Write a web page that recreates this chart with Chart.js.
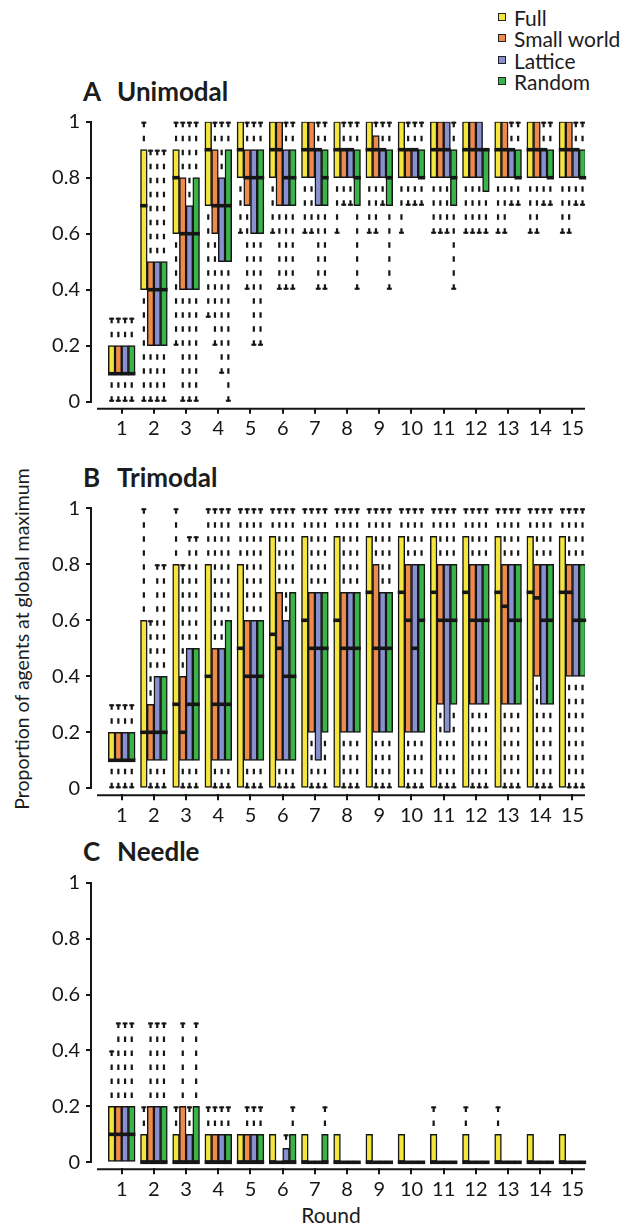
<!DOCTYPE html>
<html>
<head>
<meta charset="utf-8">
<script src="https://cdn.jsdelivr.net/npm/chart.js@4.4.1/dist/chart.umd.min.js"></script>
<style>
html,body{margin:0;padding:0;background:#fff;}
#page{position:relative;width:640px;height:1228px;overflow:hidden;font-family:Lato,'Open Sans',sans-serif;color:#1c1c1c;}
.abs{position:absolute;white-space:nowrap;}
canvas{position:absolute;left:0;}
.lgtext{position:absolute;left:514px;height:21px;line-height:21px;font-size:21px;white-space:nowrap;}
.lgbox{position:absolute;left:498px;width:6px;height:6px;border:1.5px solid #222;}
.pt{position:absolute;font-weight:700;font-size:26px;line-height:26px;white-space:nowrap;}
</style>
</head>
<body>
<div id="page">
  <div id="legend"></div>
  <div class="pt" style="left:83px;top:78px;">A</div>
  <div class="pt" style="left:117px;top:78px;">Unimodal</div>
  <div class="pt" style="left:83px;top:464px;">B</div>
  <div class="pt" style="left:117px;top:464px;">Trimodal</div>
  <div class="pt" style="left:83px;top:838px;">C</div>
  <div class="pt" style="left:117px;top:838px;">Needle</div>
  <div class="abs" style="left:-188px;top:627px;width:420px;height:24px;line-height:24px;font-size:19.5px;text-align:center;transform:rotate(-90deg);transform-origin:50% 50%;">Proportion of agents at global maximum</div>
  <div class="abs" style="left:281px;top:1204px;width:100px;height:22px;line-height:22px;font-size:21px;text-align:center;">Round</div>
  <canvas id="cA" width="640" height="345" style="top:100px"></canvas>
  <canvas id="cB" width="640" height="345" style="top:480px"></canvas>
  <canvas id="cC" width="640" height="350" style="top:855px"></canvas>
</div>
<script>
// ---------- data ----------
const rounds = [1,2,3,4,5,6,7,8,9,10,11,12,13,14,15];
const yTickValues = [0, 0.2, 0.4, 0.6, 0.8, 1];
const seriesNames = ['Full', 'Small world', 'Lattice', 'Random'];
const seriesColors = ['#F4E63E', '#EE8A4A', '#8890D0', '#38B449'];

// each entry: [min, q1, median, q3, max] for rounds 1..15
const unimodalFull = [[0,0.1,0.1,0.2,0.3],[0,0.4,0.7,0.9,1],[0.2,0.6,0.8,0.9,1],[0.3,0.7,0.9,1,1],[0.6,0.8,0.9,1,1],[0.6,0.8,0.9,1,1],[0.6,0.8,0.9,1,1],[0.6,0.8,0.9,1,1],[0.6,0.8,0.9,1,1],[0.6,0.8,0.9,1,1],[0.6,0.8,0.9,1,1],[0.6,0.8,0.9,1,1],[0.6,0.8,0.9,1,1],[0.6,0.8,0.9,1,1],[0.6,0.8,0.9,1,1]];
const unimodalSmallWorld = [[0,0.1,0.1,0.2,0.3],[0,0.2,0.4,0.5,0.9],[0,0.4,0.6,0.8,1],[0.2,0.6,0.7,0.9,1],[0.4,0.7,0.8,0.9,1],[0.4,0.7,0.9,1,1],[0.6,0.8,0.9,1,1],[0.7,0.8,0.9,0.9,1],[0.6,0.8,0.9,0.95,1],[0.7,0.8,0.9,0.9,1],[0.6,0.8,0.9,1,1],[0.6,0.8,0.9,1,1],[0.6,0.8,0.9,1,1],[0.6,0.8,0.9,1,1],[0.6,0.8,0.9,1,1]];
const unimodalLattice = [[0,0.1,0.1,0.2,0.3],[0,0.2,0.4,0.5,0.9],[0,0.4,0.6,0.7,1],[0.1,0.5,0.7,0.8,1],[0.2,0.6,0.8,0.9,1],[0.4,0.7,0.8,0.9,1],[0.4,0.7,0.9,0.9,1],[0.7,0.8,0.9,0.9,1],[0.7,0.8,0.9,0.9,1],[0.7,0.8,0.9,0.9,1],[0.6,0.8,0.9,1,1],[0.6,0.8,0.9,1,1],[0.7,0.8,0.9,0.9,1],[0.7,0.8,0.9,0.9,1],[0.7,0.8,0.9,0.9,1]];
const unimodalRandom = [[0,0.1,0.1,0.2,0.3],[0,0.2,0.4,0.5,0.9],[0,0.4,0.6,0.8,1],[0,0.5,0.7,0.9,1],[0.2,0.6,0.8,0.9,1],[0.4,0.7,0.8,0.9,1],[0.4,0.7,0.8,0.9,1],[0.4,0.7,0.8,0.9,1],[0.4,0.7,0.8,0.9,1],[0.7,0.8,0.8,0.9,1],[0.4,0.7,0.8,0.9,1],[0.6,0.75,0.9,0.9,0.9],[0.7,0.8,0.8,0.9,1],[0.7,0.8,0.8,0.9,1],[0.7,0.8,0.8,0.9,1]];

const trimodalFull = [[0,0.1,0.1,0.2,0.3],[0,0,0.2,0.6,1],[0,0,0.3,0.8,1],[0,0,0.4,0.8,1],[0,0,0.5,0.8,1],[0,0,0.55,0.9,1],[0,0,0.6,0.9,1],[0,0,0.6,0.9,1],[0,0,0.7,0.9,1],[0,0,0.7,0.9,1],[0,0,0.7,0.9,1],[0,0,0.7,0.9,1],[0,0,0.7,0.9,1],[0,0,0.7,0.9,1],[0,0,0.7,0.9,1]];
const trimodalSmallWorld = [[0,0.1,0.1,0.2,0.3],[0,0.1,0.2,0.3,0.6],[0,0.1,0.2,0.4,0.8],[0,0.1,0.3,0.5,1],[0,0.1,0.4,0.6,1],[0,0.1,0.5,0.7,1],[0,0.2,0.5,0.7,1],[0,0.2,0.5,0.7,1],[0,0.2,0.5,0.8,1],[0,0.2,0.6,0.8,1],[0,0.3,0.6,0.8,1],[0,0.3,0.6,0.8,1],[0,0.3,0.65,0.8,1],[0,0.4,0.68,0.8,1],[0,0.4,0.7,0.8,1]];
const trimodalLattice = [[0,0.1,0.1,0.2,0.3],[0,0.1,0.2,0.4,0.8],[0,0.1,0.3,0.5,0.9],[0,0.1,0.3,0.5,1],[0,0.1,0.4,0.6,1],[0,0.1,0.4,0.6,1],[0,0.1,0.5,0.7,1],[0,0.2,0.5,0.7,1],[0,0.2,0.5,0.7,1],[0,0.2,0.5,0.8,1],[0,0.2,0.6,0.8,1],[0,0.3,0.6,0.8,1],[0,0.3,0.6,0.8,1],[0,0.3,0.6,0.8,1],[0,0.4,0.6,0.8,1]];
const trimodalRandom = [[0,0.1,0.1,0.2,0.3],[0,0.1,0.2,0.4,0.8],[0,0.1,0.3,0.5,0.9],[0,0.1,0.3,0.6,1],[0,0.1,0.4,0.6,1],[0,0.1,0.4,0.7,1],[0,0.2,0.5,0.7,1],[0,0.2,0.5,0.7,1],[0,0.2,0.5,0.7,1],[0,0.2,0.6,0.8,1],[0,0.3,0.6,0.8,1],[0,0.3,0.6,0.8,1],[0,0.3,0.6,0.8,1],[0,0.3,0.6,0.8,1],[0,0.4,0.6,0.8,1]];

const needleFull = [[0,0,0.1,0.2,0.4],[0,0,0,0.1,0.2],[0,0,0,0.1,0.2],[0,0,0,0.1,0.2],[0,0,0,0.1,0.1],[0,0,0,0.1,0.1],[0,0,0,0.1,0.1],[0,0,0,0.1,0.1],[0,0,0,0.1,0.1],[0,0,0,0.1,0.1],[0,0,0,0.1,0.2],[0,0,0,0.1,0.2],[0,0,0,0.1,0.2],[0,0,0,0.1,0.1],[0,0,0,0.1,0.1]];
const needleSmallWorld = [[0,0,0.1,0.2,0.5],[0,0,0,0.2,0.5],[0,0,0,0.2,0.5],[0,0,0,0.1,0.2],[0,0,0,0.1,0.2],[0,0,0,0,0],[0,0,0,0,0],[0,0,0,0,0],[0,0,0,0,0],[0,0,0,0,0],[0,0,0,0,0],[0,0,0,0,0],[0,0,0,0,0],[0,0,0,0,0],[0,0,0,0,0]];
const needleLattice = [[0,0,0.1,0.2,0.5],[0,0,0,0.2,0.5],[0,0,0,0.1,0.2],[0,0,0,0.1,0.2],[0,0,0,0.1,0.2],[0,0,0,0.05,0.1],[0,0,0,0,0],[0,0,0,0,0],[0,0,0,0,0],[0,0,0,0,0],[0,0,0,0,0],[0,0,0,0,0],[0,0,0,0,0],[0,0,0,0,0],[0,0,0,0,0]];
const needleRandom = [[0,0,0.1,0.2,0.5],[0,0,0,0.2,0.5],[0,0,0,0.2,0.5],[0,0,0,0.1,0.2],[0,0,0,0.1,0.2],[0,0,0,0.1,0.2],[0,0,0,0.1,0.2],[0,0,0,0,0],[0,0,0,0,0],[0,0,0,0,0],[0,0,0,0,0],[0,0,0,0,0],[0,0,0,0,0],[0,0,0,0,0],[0,0,0,0,0]];

// ---------- legend ----------
const legendEl = document.getElementById('legend');
seriesNames.forEach((name, i) => {
  const cy = 17 + i * 21.5;
  const b = document.createElement('div');
  b.className = 'lgbox';
  b.style.top = (cy - 4.5) + 'px';
  b.style.background = seriesColors[i];
  legendEl.appendChild(b);
  const t = document.createElement('div');
  t.className = 'lgtext';
  t.style.top = (cy - 10.5) + 'px';
  t.textContent = name;
  legendEl.appendChild(t);
});

// ---------- drawing ----------
const INK = '#161616';
const boxPlotPlugin = {
  id: 'boxPlotExtras',
  afterDatasetsDraw(chart) {
    const ctx = chart.ctx;
    const ys = chart.scales.y;
    chart.data.datasets.forEach((ds, di) => {
      const meta = chart.getDatasetMeta(di);
      meta.data.forEach((bar, j) => {
        const st = ds.stats[j];
        const p = bar.getProps(['x', 'width'], true);
        const cx = p.x, w = p.width;
        const yMin = ys.getPixelForValue(st[0]);
        const yQ1 = ys.getPixelForValue(st[1]);
        const yMed = ys.getPixelForValue(st[2]);
        const yQ3 = ys.getPixelForValue(st[3]);
        const yMax = ys.getPixelForValue(st[4]);
        ctx.save();
        ctx.strokeStyle = INK;
        ctx.lineWidth = 2.2;
        ctx.lineCap = 'butt';
        if (st[4] > st[3]) {
          ctx.setLineDash([5.5, 8.5]);
          ctx.beginPath(); ctx.moveTo(cx, yMax); ctx.lineTo(cx, yQ3); ctx.stroke();
          ctx.setLineDash([]);
          ctx.lineWidth = 2;
          ctx.beginPath(); ctx.moveTo(cx - 2.5, yMax + 1); ctx.lineTo(cx + 2.5, yMax + 1); ctx.stroke();
        }
        ctx.lineWidth = 2.2;
        if (st[0] < st[1]) {
          ctx.setLineDash([5.5, 8.5]);
          ctx.beginPath(); ctx.moveTo(cx, yMin); ctx.lineTo(cx, yQ1); ctx.stroke();
          ctx.setLineDash([]);
          ctx.lineWidth = 2;
          ctx.beginPath(); ctx.moveTo(cx - 2.5, yMin - 1); ctx.lineTo(cx + 2.5, yMin - 1); ctx.stroke();
        }
        ctx.setLineDash([]);
        ctx.lineWidth = 3.6;
        ctx.beginPath(); ctx.moveTo(cx - w / 2 - 0.3, yMed); ctx.lineTo(cx + w / 2 + 0.3, yMed); ctx.stroke();
        ctx.restore();
      });
    });
  },
  afterDraw(chart) {
    const ctx = chart.ctx;
    const ys = chart.scales.y, a = chart.chartArea;
    ctx.save();
    ctx.strokeStyle = INK;
    ctx.lineWidth = 2;
    ctx.beginPath();
    ctx.moveTo(a.left - 1, ys.getPixelForValue(1));
    ctx.lineTo(a.left - 1, ys.getPixelForValue(0));
    ctx.stroke();
    ctx.beginPath();
    ctx.moveTo(a.left + 5, a.bottom + 1);
    ctx.lineTo(a.right, a.bottom + 1);
    ctx.stroke();
    ctx.restore();
  }
};

function makePanel(canvasId, series, padTop, xAxisHeight) {
  const tickFont = { family: 'Lato', size: 20 };
  return new Chart(document.getElementById(canvasId), {
    type: 'bar',
    data: {
      datasets: series.map((s, i) => ({
        label: seriesNames[i],
        stats: s,
        data: rounds.map((r, j) => ({ x: r, y: [s[j][1], s[j][3]] })),
        backgroundColor: seriesColors[i],
        borderColor: INK,
        borderWidth: 1.5,
        borderSkipped: false,
        barThickness: 6.7
      }))
    },
    options: {
      responsive: false,
      animation: false,
      events: [],
      layout: { padding: { top: padTop, right: 55, left: 0, bottom: 0 } },
      plugins: { legend: { display: false }, tooltip: { enabled: false }, title: { display: false } },
      scales: {
        x: {
          type: 'linear',
          min: 0.0776,
          max: 15.3886,
          offset: false,
          afterBuildTicks: sc => { sc.ticks = rounds.map(v => ({ value: v })); },
          afterFit: sc => { sc.height = xAxisHeight; },
          ticks: { font: tickFont, color: INK, autoSkip: false, maxRotation: 0, padding: 3,
                   callback: v => String(v) },
          grid: { offset: false, drawOnChartArea: false, drawTicks: true, tickLength: 6, color: INK, lineWidth: 2 },
          border: { display: false }
        },
        y: {
          min: -0.02143,
          max: 1,
          afterBuildTicks: sc => { sc.ticks = yTickValues.map(v => ({ value: v })); },
          afterFit: sc => { sc.width = 92; },
          ticks: { font: tickFont, color: INK, padding: 6,
                   callback: v => (v === 0 ? '0' : v === 1 ? '1' : v.toFixed(1)) },
          grid: { drawOnChartArea: false, drawTicks: true, tickLength: 6, color: INK, lineWidth: 2 },
          border: { display: false }
        }
      }
    },
    plugins: [boxPlotPlugin]
  });
}

makePanel('cA', [unimodalFull, unimodalSmallWorld, unimodalLattice, unimodalRandom], 21.7, 37.3);
makePanel('cB', [trimodalFull, trimodalSmallWorld, trimodalLattice, trimodalRandom], 28.3, 30.7);
makePanel('cC', [needleFull, needleSmallWorld, needleLattice, needleRandom], 27.7, 36.7);
</script>
</body>
</html>
